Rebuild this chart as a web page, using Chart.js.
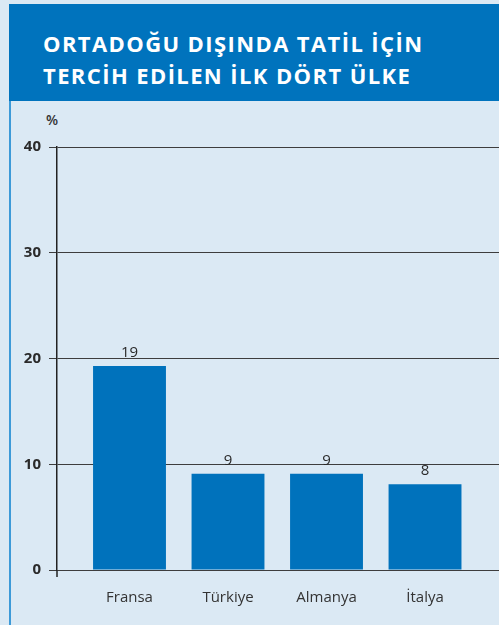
<!DOCTYPE html>
<html>
<head>
<meta charset="utf-8">
<script src="https://cdn.jsdelivr.net/npm/chart.js@4"></script>
<style>
    body { margin: 0; width: 499px; height: 625px; background: #dbe9f4; position: relative; overflow: hidden; font-family: "Open Sans", sans-serif; }
    #header { position: absolute; left: 9px; top: 4px; width: 490px; height: 97px; background: #0073bd; }
    #header h1 { margin: 0; position: absolute; left: 34px; top: 23px; color: #fff; font-size: 22px; line-height: 32px; font-weight: 700; letter-spacing: 1.4px; white-space: nowrap; }
    #leftline { position: absolute; left: 9px; top: 101px; width: 2px; height: 524px; background: #3c9ad8; }
    #unit { position: absolute; left: 46px; top: 110px; font-size: 14px; font-weight: 600; color: #333; }
    #wrap { position: absolute; left: 0; top: 101px; width: 499px; height: 524px; }
</style>
</head>
<body>
<div id="header"><h1>ORTADOĞU DIŞINDA TATİL İÇİN<br>TERCİH EDİLEN İLK DÖRT ÜLKE</h1></div>
<div id="leftline"></div>
<div id="unit">%</div>
<div id="wrap"><canvas id="chart"></canvas></div>
<script>
// Data
const countries = ['Fransa', 'Türkiye', 'Almanya', 'İtalya'];
const positions = [1, 2, 3, 4];
const shares = [19.3, 9.1, 9.1, 8.1];
const shareLabels = ['19', '9', '9', '8'];
const yTicks = [0, 10, 20, 30, 40];

const barColor = '#0072bc';

// value labels above the bars
const valueLabels = {
    id: 'valueLabels',
    afterDatasetsDraw(chart) {
        const ctx = chart.ctx;
        const meta = chart.getDatasetMeta(0);
        ctx.save();
        ctx.font = '15px "Open Sans", sans-serif';
        ctx.fillStyle = '#2a2a2a';
        ctx.textAlign = 'center';
        ctx.textBaseline = 'bottom';
        meta.data.forEach(function(bar, i) {
            ctx.fillText(shareLabels[i], bar.x, bar.y - 6);
        });
        ctx.restore();
    }
};

// y axis line runs a little below zero
const axisStub = {
    id: 'axisStub',
    afterDraw(chart) {
        const ctx = chart.ctx;
        const a = chart.chartArea;
        ctx.save();
        ctx.strokeStyle = '#222';
        ctx.lineWidth = 1.5;
        ctx.beginPath();
        ctx.moveTo(a.left, a.bottom);
        ctx.lineTo(a.left, a.bottom + 7);
        ctx.stroke();
        ctx.restore();
    }
};

const ctx = document.getElementById('chart');
new Chart(ctx.getContext('2d'), {
    type: 'bar',
    data: {
        datasets: [{
            data: positions.map((x, i) => ({ x: x, y: shares[i] })),
            backgroundColor: barColor,
            borderWidth: 0,
            categoryPercentage: 1,
            barPercentage: 0.74
        }]
    },
    options: {
        responsive: true,
        maintainAspectRatio: false,
        animation: false,
        layout: { padding: { top: 46, right: 0, left: 0, bottom: 0 } },
        plugins: {
            legend: { display: false },
            tooltip: { enabled: false }
        },
        scales: {
            x: {
                type: 'linear',
                offset: false,
                min: 0.264,
                max: 4.751,
                afterBuildTicks: function(scale) {
                    scale.ticks = positions.map(v => ({ value: v }));
                },
                afterFit: function(scale) { scale.height = 55; },
                grid: { display: false },
                border: { display: false },
                ticks: {
                    padding: 11,
                    autoSkip: false,
                    maxRotation: 0,
                    color: '#333',
                    font: { family: 'Open Sans', size: 15 },
                    callback: function(value) {
                        const i = positions.indexOf(value);
                        return i >= 0 ? countries[i] : '';
                    }
                }
            },
            y: {
                min: 0,
                max: 40,
                afterBuildTicks: function(scale) {
                    scale.ticks = yTicks.map(v => ({ value: v }));
                },
                afterFit: function(scale) { scale.width = 57; },
                grid: { color: '#3d3d3d', lineWidth: 1, tickLength: 8 },
                border: { display: true, color: '#222', width: 1.5 },
                ticks: {
                    padding: 8,
                    color: '#2a2a2a',
                    font: { family: 'Noto Sans', size: 15, weight: 'bold' }
                }
            }
        }
    },
    plugins: [valueLabels, axisStub]
});
</script>
</body>
</html>
